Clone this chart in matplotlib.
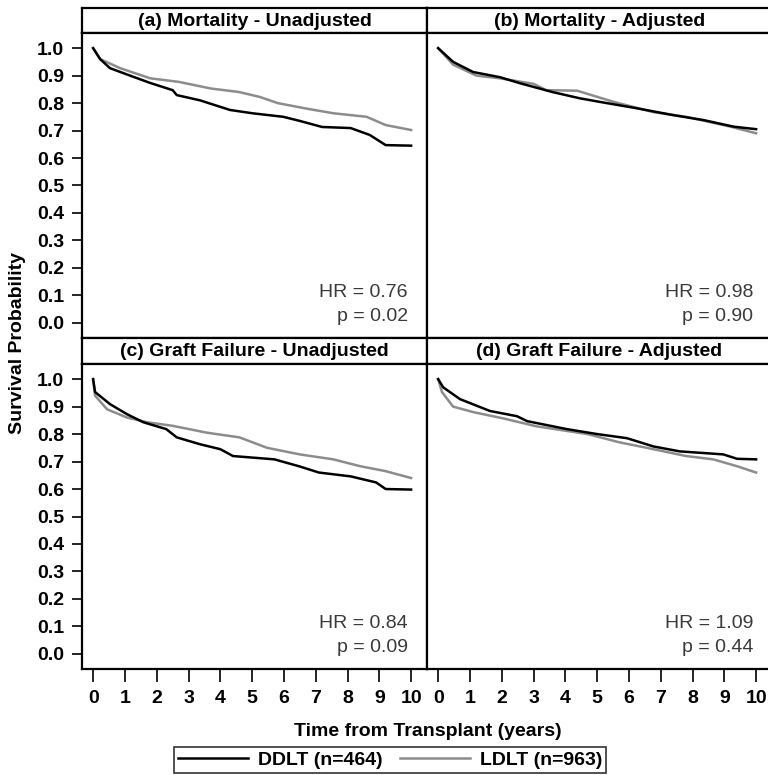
#!/usr/bin/env python3
# -*- coding: utf-8 -*-
"""Survival curves, DDLT vs LDLT: mortality / graft failure, unadjusted / adjusted."""

import matplotlib
matplotlib.use("Agg")
import matplotlib.pyplot as plt
from matplotlib.lines import Line2D

plt.rcParams["font.family"] = ["Liberation Sans", "DejaVu Sans"]

# ---- data (years, survival probability) ----
a_ddlt_t = [0, 0.22, 0.53, 1.16, 1.8, 2.5, 2.63, 3.36, 4.3, 5.0, 5.98, 6.5, 7.2, 8.1, 8.7, 9.2, 10]
a_ddlt_s = [1.0, 0.96, 0.927, 0.90, 0.873, 0.847, 0.829, 0.81, 0.775, 0.763, 0.75, 0.735, 0.713, 0.709, 0.684, 0.647, 0.645]
a_ldlt_t = [0, 0.22, 0.85, 1.8, 2.7, 3.7, 4.6, 5.25, 5.8, 6.7, 7.55, 8.6, 9.2, 10]
a_ldlt_s = [1.0, 0.96, 0.927, 0.89, 0.877, 0.853, 0.84, 0.822, 0.80, 0.78, 0.763, 0.75, 0.72, 0.702]

b_ddlt_t = [0, 0.47, 1.1, 1.95, 2.58, 3.6, 4.47, 5.1, 6.25, 7.4, 8.35, 9.3, 10]
b_ddlt_s = [1.0, 0.95, 0.913, 0.894, 0.872, 0.84, 0.817, 0.804, 0.781, 0.756, 0.738, 0.714, 0.705]
b_ldlt_t = [0, 0.47, 1.2, 1.95, 3.0, 3.4, 4.37, 5.5, 6.77, 7.8, 9.2, 10]
b_ldlt_s = [1.0, 0.94, 0.90, 0.89, 0.87, 0.847, 0.845, 0.805, 0.767, 0.75, 0.714, 0.69]

c_ddlt_t = [0, 0.06, 0.53, 1.07, 1.58, 2.3, 2.63, 3.36, 4.0, 4.4, 5.7, 6.5, 7.1, 8.1, 8.9, 9.2, 10]
c_ddlt_s = [1.0, 0.953, 0.909, 0.872, 0.843, 0.818, 0.788, 0.763, 0.745, 0.72, 0.708, 0.682, 0.66, 0.646, 0.624, 0.60, 0.598]
c_ldlt_t = [0, 0.06, 0.44, 1.07, 1.7, 2.5, 3.58, 4.6, 5.47, 6.5, 7.55, 8.4, 9.2, 10]
c_ldlt_s = [1.0, 0.94, 0.89, 0.86, 0.843, 0.83, 0.805, 0.788, 0.75, 0.726, 0.708, 0.683, 0.665, 0.64]

d_ddlt_t = [0, 0.16, 0.69, 1.63, 2.48, 2.8, 4.05, 5.0, 5.94, 6.77, 7.6, 8.97, 9.4, 10]
d_ddlt_s = [1.0, 0.97, 0.927, 0.884, 0.865, 0.847, 0.818, 0.80, 0.785, 0.755, 0.737, 0.726, 0.71, 0.708]
d_ldlt_t = [0, 0.12, 0.47, 1.1, 2.05, 3.1, 4.7, 5.7, 6.77, 7.8, 8.65, 9.4, 10]
d_ldlt_s = [1.0, 0.953, 0.90, 0.88, 0.857, 0.828, 0.80, 0.77, 0.745, 0.72, 0.708, 0.683, 0.66]

titles = ["(a) Mortality - Unadjusted", "(b) Mortality - Adjusted",
          "(c) Graft Failure - Unadjusted", "(d) Graft Failure - Adjusted"]
hr_lines = [("HR = 0.76", "p = 0.02"), ("HR = 0.98", "p = 0.90"),
            ("HR = 0.84", "p = 0.09"), ("HR = 1.09", "p = 0.44")]
legend_labels = ["DDLT (n=464)", "LDLT (n=963)"]
x_ticks = list(range(0, 11))
y_ticks = [0.0, 0.1, 0.2, 0.3, 0.4, 0.5, 0.6, 0.7, 0.8, 0.9, 1.0]

curves = [
    (a_ddlt_t, a_ddlt_s, a_ldlt_t, a_ldlt_s),
    (b_ddlt_t, b_ddlt_s, b_ldlt_t, b_ldlt_s),
    (c_ddlt_t, c_ddlt_s, c_ldlt_t, c_ldlt_s),
    (d_ddlt_t, d_ddlt_s, d_ldlt_t, d_ldlt_s),
]

DDLT_COLOR = "black"
LDLT_COLOR = "#8c8c8c"
FS = 14
W, H = 768, 775


def fig_rect(x0, y0, x1, y1):
    # pixel box (top-left origin) -> figure fraction rect
    return [x0 / W, 1 - y1 / H, (x1 - x0) / W, (y1 - y0) / H]


fig = plt.figure(figsize=(W / 100, H / 100), dpi=100)

col_x = [(82, 427), (427, 772)]
row_y = [((8, 33), (33, 338)), ((338, 364), (364, 669))]

for i in range(4):
    r, c = divmod(i, 2)
    x0, x1 = col_x[c]
    (hy0, hy1), (py0, py1) = row_y[r]

    # header strip
    hax = fig.add_axes(fig_rect(x0, hy0, x1, hy1))
    hax.set_xticks([])
    hax.set_yticks([])
    for sp in hax.spines.values():
        sp.set_linewidth(1.6)
    hax.text(0.5, 0.47, titles[i], ha="center", va="center", fontsize=FS,
             fontweight="bold", transform=hax.transAxes)

    ax = fig.add_axes(fig_rect(x0, py0, x1, py1))
    dt, ds, lt, ls = curves[i]
    ax.plot(lt, ls, color=LDLT_COLOR, lw=1.8)
    ax.plot(dt, ds, color=DDLT_COLOR, lw=1.8)
    ax.set_xlim(-0.35, 10.5)
    ax.set_ylim(-0.055, 1.055)
    for sp in ax.spines.values():
        sp.set_linewidth(1.6)

    ax.text(9.9, 0.11, hr_lines[i][0], ha="right", va="center",
            fontsize=FS, color="#3a3a3a")
    ax.text(9.9, 0.025, hr_lines[i][1], ha="right", va="center",
            fontsize=FS, color="#3a3a3a")

    if c == 0:
        ax.set_yticks(y_ticks)
        ax.set_yticklabels([f"{v:.1f}" for v in y_ticks], fontsize=FS,
                           fontweight="bold")
        ax.tick_params(axis="y", length=7, width=1.2, pad=6)
    else:
        ax.set_yticks([])
    if r == 1:
        ax.set_xticks(x_ticks)
        ax.set_xticklabels([str(v) for v in x_ticks], fontsize=FS,
                           fontweight="bold")
        ax.tick_params(axis="x", length=9, width=1.2, pad=6)
    else:
        ax.set_xticks([])

fig.text(18 / W, 1 - 343 / H, "Survival Probability", rotation=90, ha="center",
         va="center", fontsize=FS, fontweight="bold")
fig.text(428 / W, 1 - 732 / H, "Time from Transplant (years)", ha="center",
         va="center", fontsize=FS, fontweight="bold")

handles = [Line2D([], [], color=DDLT_COLOR, lw=1.8),
           Line2D([], [], color=LDLT_COLOR, lw=1.8)]
leg = fig.legend(handles, legend_labels, loc="center", ncol=2,
                 bbox_to_anchor=(390 / W, 1 - 760 / H), frameon=True,
                 fancybox=False, edgecolor="black", handlelength=3.6,
                 columnspacing=0.9, handletextpad=0.5, borderpad=0.2,
                 prop={"size": FS, "weight": "bold"})
leg.get_frame().set_linewidth(1.2)

fig.savefig("out.png", dpi=100)
